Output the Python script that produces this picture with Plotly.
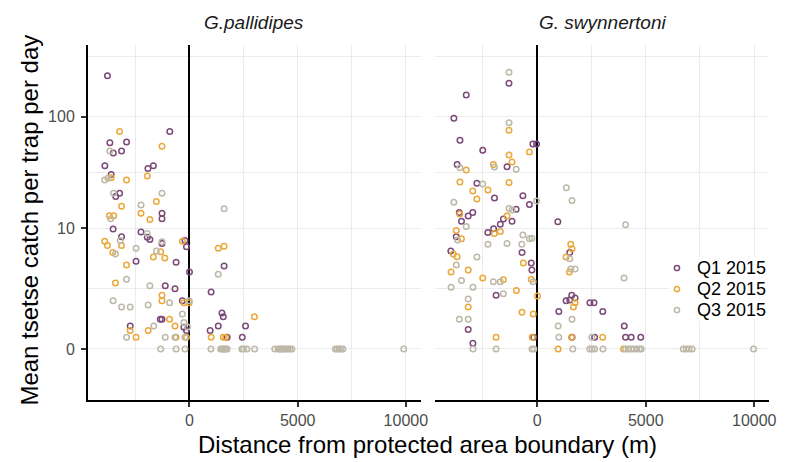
import numpy as np
import plotly.graph_objects as go

# ---------------- data ----------------
panels = ["G.pallidipes", "G. swynnertoni"]
series = ["Q1 2015", "Q2 2015", "Q3 2015"]
colors = ["#7b4a79", "#eba83a", "#bdb8a8"]

# G.pallidipes
pal_q1_dist = [-3790, -910, -3680, -2910, -3520, -3140, -3910, -1920, -1670, -3620,
               -3230, -3410, -1270, -1270, -3530, -3140, -2240, -1950, -1830, -1270,
               -210, -140, -2470, -620, 0, -1120, -670, -330, -1350, -1270,
               -2740, -260, -140,
               1600, 1000, 1500, 1560, 955, 1330, 2590, 1740, 2440]
pal_q1_catch = [226, 74, 59, 60, 48, 50, 37, 35, 37, 31,
                21, 19.6, 13.8, 12.3, 9.8, 8.3, 9.2, 8.2, 7.8, 7.1,
                7.6, 6.6, 4.7, 4.6, 3.6, 2.5, 2.3, 1.6, 0.8, 0.8,
                0.58, 0.54, 0.44,
                4.2, 2.1, 1.04, 0.9, 0.44, 0.58, 0.58, 0.26, 0.26]

pal_q2_dist = [-3230, -1270, -3620, -2910, -1950, -1530, -3140, -3700, -3500, -2240,
               -1830, -3920, -3790, -3140, -3545, -1330, -1670, -1140, -330, -2910,
               -3420, -1270, -1270, -260, -14, -920, -670, -1910, -2740, -2470,
               -620, -140,
               1330, 1600, 3000, 1000, 1560, 1670]
pal_q2_catch = [74, 55, 29, 27.6, 30, 17.7, 16, 13.1, 13.1, 13.8,
                12.1, 7.5, 6.8, 6.8, 5.8, 5.9, 5.2, 5.1, 7.5, 4.3,
                2.7, 1.9, 1.6, 1.5, 1.5, 0.8, 0.58, 0.44, 0.44, 0.26,
                0.26, 0.26,
                6.4, 6.7, 0.9, 0.26, 0.26, 0.26]

pal_q3_dist = [-3680, -3920, -3770, -3510, -1270, -2240, -3640, -3200, -1955, -3420,
               -1270, -2470, -1530, -2910, -1830, -3530, -3140, -2740, -1910, -920,
               -330, -14, -260, -90, -1650, -2910, -1120, -670, -210, -1330,
               -620, -210,
               1600, 1330,
               990, 1440, 1560, 1670, 1740, 2420, 2500, 2650, 3010, 3940,
               4090, 4230, 4360, 4550, 4730, 6740, 6910, 7090, 9900,
               1500, 1620, 4160, 4300, 4450, 4640, 6820, 7000]
pal_q3_catch = [50, 27.6, 28.6, 21, 21, 16.4, 12.3, 7.6, 8.9, 5.6,
                7.4, 6.4, 6.0, 3.0, 2.5, 1.6, 1.3, 1.3, 1.4, 1.5,
                1.0, 1.6, 0.69, 0.55, 0.58, 0.26, 0.26, 0.26, 0.26, 0,
                0, 0,
                15.2, 3.4,
                0, 0, 0, 0, 0, 0, 0, 0, 0, 0,
                0, 0, 0, 0, 0, 0, 0, 0, 0,
                0, 0, 0, 0, 0, 0, 0, 0]

# G. swynnertoni
swy_q1_dist = [-1300, -3270, -3840, -3560, -200, -30, -2510, -1390, -3690, -2780,
               -1970, -660, -360, -3590, -3490, -3180, -2970, -970, -1560, -1700,
               -2010, -2275, -1160, -3730, -3980, -700, -275, -245, -1894, -3180,
               -2963, -165,
               950, 1500, 1330, 1500, 1590, 1745, 2430, 2615, 3020, 995,
               4010, 1605, 2645, 4070, 4330, 4770]
swy_q1_catch = [195, 154, 96.5, 62, 57.5, 57.5, 50.6, 36.3, 38, 25.8,
                19, 20, 16.6, 14, 11.6, 13, 14, 15, 12.2, 10.9,
                9.9, 9.1, 11.6, 8.3, 6.0, 5.8, 4.5, 3.8, 1.9, 0.47,
                0.12, 0.26,
                11.5, 5.8, 1.6, 1.65, 1.9, 1.75, 1.5, 1.5, 1.1, 1.1,
                0.58, 0.26, 0.26, 0.26, 0.26, 0.26]

swy_q2_dist = [-1300, -360, -1300, -1160, -2020, -3270, -3560, -1300, -2970, -2270,
               -2780, -3570, -1390, -3730, -3490, -1975, -1700, -3870, -3690, -640,
               -3970, -3180, -2510, -1560, -275, -960, 10, -3180, -700, -185,
               -1894, -230,
               1545, 1605, 1330, 1485, 1745, 1670, 3015, 1580,
               963, 3980]
swy_q2_catch = [75.8, 49, 46, 40, 38, 34, 26.5, 26.2, 22, 22.5,
                18.6, 13.6, 13, 9.5, 7.9, 8.9, 9.3, 5.6, 5.25, 4.5,
                3.6, 3.8, 3.1, 2.95, 3.0, 2.2, 1.86, 1.3, 1.07, 1.0,
                0.26, 0.26,
                7.0, 6.3, 5.2, 3.6, 1.5, 1.3, 0.26, 0.26,
                0, 0]

swy_q3_dist = [-1300, -1300, -1970, -970, -3560, -2510, -3840, -30, -1300, -1160,
               -3270, -660, -360, -245, -3670, -2270, -1390, -710, -2780, -3730,
               -3490, -2020, -1700, -190, -3970, -2960, -1560, -3180, -3590, -3180,
               -2960, -1894, -243, -151,
               1340, 1605, 4070, 1500, 1545, 1745, 4000, 963, 1605, 995,
               2520,
               1640, 2420, 2530, 2645, 3030, 4070, 4200, 4330, 4450, 4590,
               4720, 4790, 6730, 6870, 7000, 7140, 9970]
swy_q3_catch = [242, 88.4, 36.1, 34.4, 35.5, 25.4, 17.4, 17.9, 15.3, 14.8,
                10.4, 8.6, 7.9, 8.0, 7.7, 7.0, 7.1, 7.0, 5.2, 4.3,
                2.9, 2.8, 2.8, 2.8, 2.4, 2.4, 2.0, 1.7, 0.8, 0.8,
                0, 0, 0, 0,
                23.6, 18.1, 10.8, 5.0, 3.9, 3.9, 3.1, 0.58, 0.8, 0.26,
                0.26,
                0, 0, 0, 0, 0, 0, 0, 0, 0, 0,
                0, 0, 0, 0, 0, 0, 0]

y_breaks = [0, 10, 100]
y_break_labels = ["0", "10", "100"]
x_breaks = [0, 5000, 10000]
x_break_labels = ["0", "5000", "10000"]

# ---------------- figure ----------------
FONT = "Liberation Sans, Arial, sans-serif"
OFF = 8                      # page body margin
W, H = 778, 454
# plot area in page pixels: x 88..776, y 45..400
ML, MT = 88 - OFF, 45 - OFF
MR = W - (776 - OFF)
MB = H - (400 - OFF)
PW = W - ML - MR
PH = H - MT - MB


def tr(v):
    return np.log10(np.asarray(v, dtype=float) + 1.0)


def px_x(p):
    return (p - OFF - ML) / PW


def px_y(p):
    return (H - MB - (p - OFF)) / PH


data = {
    0: [(pal_q1_dist, pal_q1_catch), (pal_q2_dist, pal_q2_catch), (pal_q3_dist, pal_q3_catch)],
    1: [(swy_q1_dist, swy_q1_catch), (swy_q2_dist, swy_q2_catch), (swy_q3_dist, swy_q3_catch)],
}

fig = go.Figure()
for p in range(2):
    xa = "x" if p == 0 else "x2"
    ya = "y" if p == 0 else "y2"
    for s in range(3):
        d, c = data[p][s]
        fig.add_trace(go.Scatter(
            x=d, y=tr(c), mode="markers", name=series[s],
            xaxis=xa, yaxis=ya, showlegend=False,
            marker=dict(symbol="circle-open", size=5.5, color=colors[s],
                        line=dict(width=1.5, color=colors[s])),
        ))

yb = tr(y_breaks)
bd = yb[1] - yb[0]
ext = np.concatenate([[yb[0] - bd], yb, [yb[-1] + bd]])
y_minor = list((ext[:-1] + ext[1:]) / 2)
x_minor = [-2500, 2500, 7500]

GRID = "#ebebeb"
xrange = [-4690, 10680]
yrange = [-0.44, 2.621]

common_x = dict(
    range=xrange, tickmode="array", tickvals=x_breaks, ticktext=x_break_labels,
    showgrid=True, gridcolor=GRID, gridwidth=1.3,
    minor=dict(tickvals=x_minor, showgrid=True, gridcolor=GRID, gridwidth=1.0, ticks=""),
    zeroline=True, zerolinecolor="black", zerolinewidth=2,
    showline=True, linecolor="black", linewidth=2,
    ticks="outside", ticklen=5, tickwidth=1.5, tickcolor="#333333",
    tickfont=dict(family=FONT, size=16, color="#4d4d4d"),
    fixedrange=True,
)
left_end = px_x(424)
right_start = px_x(439)
fig.update_layout(
    width=W, height=H,
    margin=dict(l=ML, r=MR, t=MT, b=MB),
    paper_bgcolor="white", plot_bgcolor="white",
    font=dict(family=FONT, color="black"),
    showlegend=False,
    xaxis=dict(domain=[0, left_end], anchor="y", **common_x),
    xaxis2=dict(domain=[right_start, 1], anchor="y2", **common_x),
    yaxis=dict(
        domain=[0, 1], anchor="x", range=yrange,
        tickmode="array", tickvals=list(yb), ticktext=y_break_labels,
        showgrid=True, gridcolor=GRID, gridwidth=1.3,
        minor=dict(tickvals=y_minor, showgrid=True, gridcolor=GRID, gridwidth=1.0, ticks=""),
        zeroline=False, showline=True, linecolor="black", linewidth=2,
        ticks="outside", ticklen=5, tickwidth=1.5, tickcolor="#333333",
        ticklabelstandoff=3,
        tickfont=dict(family=FONT, size=16, color="#4d4d4d"),
        fixedrange=True,
    ),
    yaxis2=dict(
        domain=[0, 1], anchor="x2", matches="y", range=yrange,
        tickmode="array", tickvals=list(yb), showticklabels=False,
        showgrid=True, gridcolor=GRID, gridwidth=1.3,
        minor=dict(tickvals=y_minor, showgrid=True, gridcolor=GRID, gridwidth=1.0, ticks=""),
        zeroline=False, showline=False, ticks="",
        fixedrange=True,
    ),
)

annotations = [
    dict(text="<i>" + panels[0] + "</i>", x=(0 + left_end) / 2, y=px_y(22), xref="paper", yref="paper",
         showarrow=False, xanchor="center", yanchor="middle",
         font=dict(family=FONT, size=19, color="#1a1a1a")),
    dict(text="<i>" + panels[1] + "</i>", x=(right_start + 1) / 2, y=px_y(22), xref="paper", yref="paper",
         showarrow=False, xanchor="center", yanchor="middle",
         font=dict(family=FONT, size=19, color="#1a1a1a")),
    dict(text="Distance from protected area boundary (m)", x=px_x(431), y=px_y(444),
         xref="paper", yref="paper", showarrow=False, xanchor="center", yanchor="middle",
         font=dict(family=FONT, size=24, color="black")),
    dict(text="Mean tsetse catch per trap per day", x=px_x(28), y=px_y(220),
         xref="paper", yref="paper", showarrow=False, xanchor="center", yanchor="middle",
         textangle=-90, font=dict(family=FONT, size=24, color="black")),
]

# legend (inside the right panel, white background)
shapes = [dict(type="rect", xref="paper", yref="paper",
               x0=px_x(675), x1=1.0, y0=px_y(321), y1=px_y(257),
               fillcolor="white", line=dict(width=0), layer="above")]
leg_y = [268, 289, 310]
for s in range(3):
    shapes.append(dict(type="circle", xref="paper", yref="paper",
                       xsizemode="pixel", ysizemode="pixel",
                       xanchor=px_x(683), yanchor=px_y(leg_y[s]),
                       x0=-2.6, x1=2.6, y0=-2.6, y1=2.6,
                       line=dict(color=colors[s], width=1.5), fillcolor="rgba(0,0,0,0)",
                       layer="above"))
    annotations.append(dict(text=series[s], x=px_x(701), y=px_y(leg_y[s]),
                            xref="paper", yref="paper", showarrow=False,
                            xanchor="left", yanchor="middle",
                            font=dict(family=FONT, size=18, color="black")))

fig.update_layout(annotations=annotations, shapes=shapes)
fig.write_html("out.html")
